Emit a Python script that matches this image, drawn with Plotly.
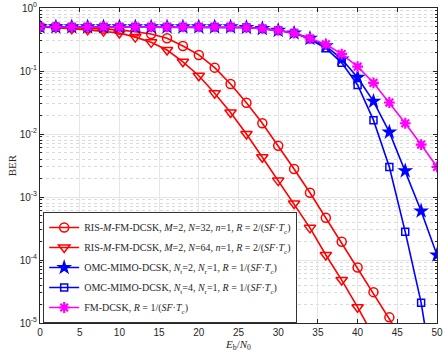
import plotly.graph_objects as go

# Eb/N0 (dB)
snr = [0, 2, 4, 6, 8, 10, 12, 14, 16, 18, 20, 22, 24,
       26, 28, 30, 32, 34, 36, 38, 40, 42, 44, 46, 48, 50]

# BER values
ber_ris_n32 = [0.5, 0.5, 0.49, 0.48, 0.47, 0.45, 0.42, 0.386, 0.33, 0.25, 0.18, 0.113, 0.0622,
               0.0314, 0.0148, 0.00652, 0.00278, 0.00117, 4.68e-4, 1.95e-4, 7.6e-5, 3.09e-5, 1.23e-5, 4.6e-6, None, None]
ber_ris_n64 = [0.5, 0.49, 0.47, 0.45, 0.43, 0.40, 0.345, 0.285, 0.215, 0.14, 0.084, 0.0445, 0.0219,
               0.0100, 0.00427, 0.00182, 7.9e-4, 3.24e-4, 1.2e-4, 4.8e-5, 1.78e-5, 6.2e-6, None, None, None, None]
ber_omc_nt2 = [0.5, 0.5, 0.5, 0.5, 0.5, 0.5, 0.5, 0.5, 0.5, 0.5, 0.5, 0.5, 0.5,
               0.49, 0.47, 0.44, 0.40, 0.33, 0.25, 0.155, 0.079, 0.033, 0.0107, 0.0026, 6.0e-4, 1.2e-4]
ber_omc_nt4 = [0.5, 0.5, 0.5, 0.5, 0.5, 0.5, 0.5, 0.5, 0.5, 0.5, 0.5, 0.5, 0.5,
               0.49, 0.47, 0.44, 0.40, 0.32, 0.23, 0.135, 0.06, 0.0166, 0.003, 2.8e-4, 2.1e-5, 6e-7]
ber_fm_dcsk = [0.5, 0.5, 0.5, 0.5, 0.5, 0.5, 0.5, 0.5, 0.5, 0.5, 0.5, 0.5, 0.5,
               0.49, 0.47, 0.44, 0.40, 0.33, 0.265, 0.185, 0.117, 0.065, 0.0316, 0.0148, 0.0068, 0.003]

rate2 = "<i>R</i> = 2/(<i>SF</i>·<i>T</i><sub>c</sub>)"
rate1 = "<i>R</i> = 1/(<i>SF</i>·<i>T</i><sub>c</sub>)"
names = [
    "RIS-<i>M</i>-FM-DCSK, <i>M</i>=2, <i>N</i>=32, <i>n</i>=1, " + rate2,
    "RIS-<i>M</i>-FM-DCSK, <i>M</i>=2, <i>N</i>=64, <i>n</i>=1, " + rate2,
    "OMC-MIMO-DCSK, <i>N</i><sub>t</sub>=2, <i>N</i><sub>r</sub>=1, " + rate1,
    "OMC-MIMO-DCSK, <i>N</i><sub>t</sub>=4, <i>N</i><sub>r</sub>=1, " + rate1,
    "FM-DCSK, " + rate1,
]

series = [
    (ber_ris_n32, "#FF0000", dict(symbol="circle-open", size=9, line=dict(width=1.5))),
    (ber_ris_n64, "#FF0000", dict(symbol="triangle-down-open", size=10, line=dict(width=1.5))),
    (ber_omc_nt2, "#0000FF", dict(symbol="star", size=12, line=dict(width=0))),
    (ber_omc_nt4, "#0000FF", dict(symbol="square-open", size=7, line=dict(width=1.5))),
    (ber_fm_dcsk, "#FF00FF", dict(symbol="asterisk-open", size=9, line=dict(width=2.2))),
]

fig = go.Figure()
for i, (ber, color, marker) in enumerate(series):
    marker["color"] = color
    marker["line"]["color"] = color
    fig.add_trace(go.Scatter(
        x=snr, y=ber, name=names[i], mode="lines+markers",
        line=dict(color=color, width=1.6),
        marker=marker, legendgroup=str(i),
    ))

minor_vals = [m * 10 ** e for e in range(-5, 0) for m in range(2, 10)]
serif = "Liberation Serif, Times New Roman, serif"

fig.update_layout(
    width=443, height=354,
    margin=dict(l=40, r=6, t=8, b=31),
    paper_bgcolor="white", plot_bgcolor="white",
    font=dict(family="Liberation Sans, Arial, sans-serif", size=10, color="#262626"),
    showlegend=True,
    legend=dict(
        x=0.008, y=0, xanchor="left", yanchor="bottom",
        bgcolor="white", bordercolor="#333333", borderwidth=1,
        font=dict(family=serif, size=10, color="#262626"),
        itemwidth=30, traceorder="grouped", tracegroupgap=1,
    ),
    xaxis=dict(
        range=[0, 50], tickvals=[0, 5, 10, 15, 20, 25, 30, 35, 40, 45, 50],
        showgrid=True, gridcolor="#E6E6E6", gridwidth=1, zeroline=False,
        showline=True, linecolor="#262626", linewidth=1, mirror="allticks",
        ticks="inside", ticklen=4, tickcolor="#262626", automargin=False,
        title=dict(text="<i>E</i><sub>b</sub>/<i>N</i><sub>0</sub>", standoff=0,
                   font=dict(family=serif, size=11)),
    ),
    yaxis=dict(
        type="log", range=[-5, 0],
        tickvals=[1e-5, 1e-4, 1e-3, 1e-2, 1e-1, 1],
        ticktext=["10<sup>-5</sup>", "10<sup>-4</sup>", "10<sup>-3</sup>",
                  "10<sup>-2</sup>", "10<sup>-1</sup>", "10<sup>0</sup>"],
        showgrid=True, gridcolor="#E6E6E6", gridwidth=1, zeroline=False,
        showline=True, linecolor="#262626", linewidth=1, mirror="allticks",
        ticks="inside", ticklen=4, tickcolor="#262626", automargin=False,
        minor=dict(tickvals=minor_vals, ticks="inside", ticklen=2, tickcolor="#262626",
                   showgrid=True, gridcolor="#DADADA", griddash="dot", gridwidth=1),
        title=dict(text="BER", standoff=0, font=dict(family=serif, size=11)),
    ),
)

# drop the browser's default 8px body margin so the figure fills the window
fig.write_html(
    "out.html",
    config={"displayModeBar": False},
    post_script="document.body.style.margin = '0';",
)
